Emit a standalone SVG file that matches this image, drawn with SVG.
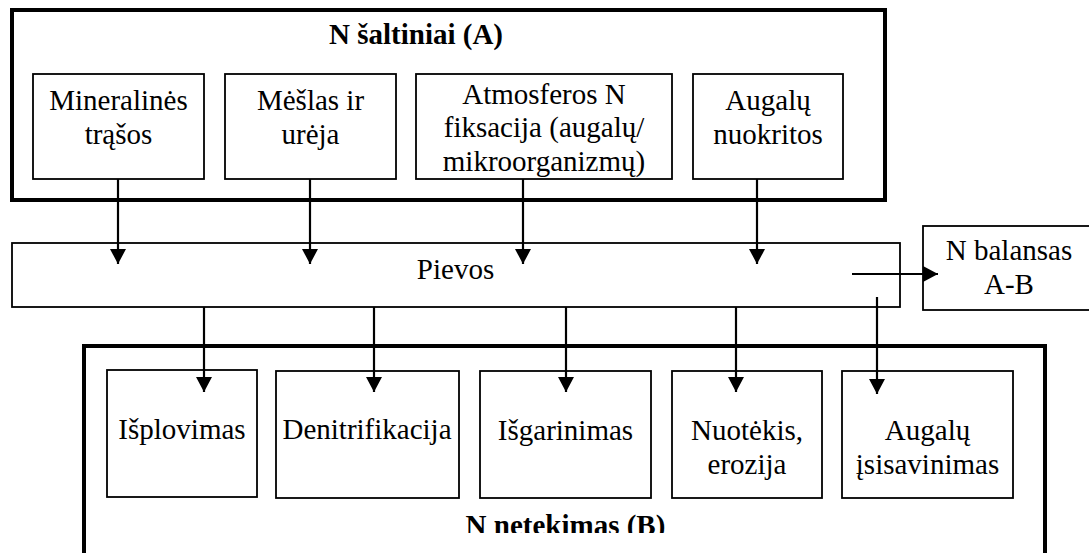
<svg xmlns="http://www.w3.org/2000/svg" width="1089" height="553" viewBox="0 0 1089 553">
<style>
.frame{fill:none;stroke:#000;stroke-width:4}
.box{fill:#fff;stroke:#000;stroke-width:1.8}
.c{fill:none;stroke:#000;stroke-width:2.2}
</style>
<defs>
<marker id="ah" markerUnits="userSpaceOnUse" markerWidth="18" markerHeight="18" viewBox="0 0 18 18" refX="16" refY="9" orient="auto">
<path d="M1,1 L16,9 L1,17 Z" fill="#000"/>
</marker>
<clipPath id="clipB"><rect x="0" y="0" width="1089" height="533"/></clipPath>
</defs>
<rect width="1089" height="553" fill="#fff"/>

<g font-family="'Liberation Serif', 'DejaVu Serif', serif" font-size="29" font-weight="normal" text-anchor="middle" fill="#000">
<g id="sources">
<rect class="frame" x="12" y="10" width="873" height="190"/>
<text font-weight="bold" x="416" y="44">N šaltiniai (A)</text>
</g>
<g id="mineralines">
<rect class="box" x="33" y="74" width="171" height="105"/>
<text x="118.5" y="110">Mineralinės</text>
<text x="118.5" y="144">trąšos</text>
</g>
<g id="meslas">
<rect class="box" x="225" y="74" width="171" height="105"/>
<text x="310.5" y="110">Mėšlas ir</text>
<text x="310.5" y="144">urėja</text>
</g>
<g id="atmosferos">
<rect class="box" x="416" y="74" width="256" height="105"/>
<text x="544" y="104">Atmosferos N</text>
<text x="544" y="137">fiksacija (augalų/</text>
<text x="544" y="171">mikroorganizmų)</text>
</g>
<g id="nuokritos">
<rect class="box" x="693" y="74" width="150" height="105"/>
<text x="768" y="110">Augalų</text>
<text x="768" y="144">nuokritos</text>
</g>

<g id="pievos">
<rect class="box" x="12" y="243" width="888" height="64"/>
<text x="455.5" y="279">Pievos</text>
</g>
<g id="balansas">
<rect class="box" x="923" y="226" width="170" height="84" stroke-width="2.2"/>
<text x="1009" y="260">N balansas</text>
<text x="1009" y="294">A-B</text>
</g>

<g id="losses">
<rect class="frame" x="84" y="346" width="961" height="230"/>
<g clip-path="url(#clipB)"><text font-weight="bold" x="565.5" y="535">N netekimas (B)</text></g>
</g>
<g id="isplovimas">
<rect class="box" x="107" y="370" width="150" height="127"/>
<text x="182" y="439">Išplovimas</text>
</g>
<g id="denitrifikacija">
<rect class="box" x="276" y="371" width="183" height="127"/>
<text x="367" y="439">Denitrifikacija</text>
</g>
<g id="isgarinimas">
<rect class="box" x="480" y="371" width="171" height="127"/>
<text x="565.5" y="440">Išgarinimas</text>
</g>
<g id="nuotekis">
<rect class="box" x="672" y="371" width="150" height="127"/>
<text x="747" y="440">Nuotėkis,</text>
<text x="747" y="474">erozija</text>
</g>
<g id="isisavinimas">
<rect class="box" x="842" y="371" width="171" height="127"/>
<text x="927.5" y="440">Augalų</text>
<text x="927.5" y="474">įsisavinimas</text>
</g>
</g>

<g id="connectors">
<line class="c" x1="118" y1="179" x2="118" y2="264" marker-end="url(#ah)"/>
<line class="c" x1="310" y1="179" x2="310" y2="264" marker-end="url(#ah)"/>
<line class="c" x1="523" y1="179" x2="523" y2="264" marker-end="url(#ah)"/>
<line class="c" x1="757" y1="179" x2="757" y2="264" marker-end="url(#ah)"/>
<line class="c" x1="204" y1="307" x2="204" y2="392" marker-end="url(#ah)"/>
<line class="c" x1="374" y1="307" x2="374" y2="392" marker-end="url(#ah)"/>
<line class="c" x1="566" y1="307" x2="566" y2="392" marker-end="url(#ah)"/>
<line class="c" x1="736" y1="307" x2="736" y2="392" marker-end="url(#ah)"/>
<line class="c" x1="877" y1="297" x2="877" y2="394" marker-end="url(#ah)"/>
<line class="c" x1="852" y1="274" x2="938" y2="274" marker-end="url(#ah)"/>
</g>
</svg>
